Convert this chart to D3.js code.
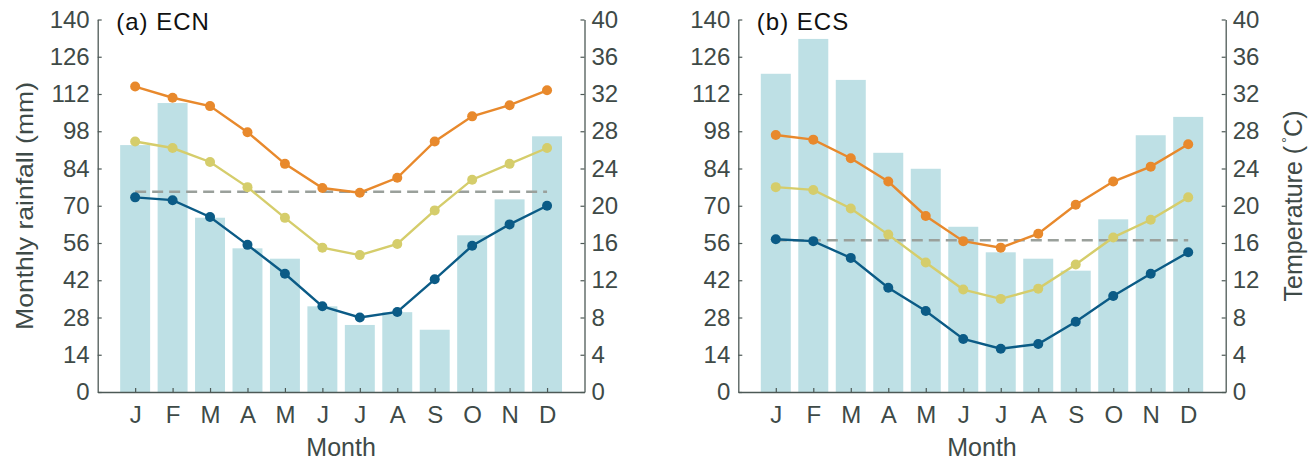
<!DOCTYPE html>
<html>
<head>
<meta charset="utf-8">
<script src="https://cdn.jsdelivr.net/npm/d3@7"></script>
<style>
  html, body { margin: 0; padding: 0; background: #fff; }
  svg { display: block; font-family: "Liberation Sans", Arial, sans-serif; }
</style>
</head>
<body>
<svg id="chart" width="1316" height="464"></svg>
<script>
const months = ["J","F","M","A","M","J","J","A","S","O","N","D"];
const rainTicks = [0,14,28,42,56,70,84,98,112,126,140];
const tempTicks = [0,4,8,12,16,20,24,28,32,36,40];

// (a) ECN
const ecnRain = [92.8,108.6,65.5,54.0,50.1,32.2,25.2,30.0,23.4,58.9,72.4,96.1];
const ecnTmax = [32.8,31.6,30.7,27.9,24.5,21.9,21.4,23.0,26.9,29.6,30.8,32.4];
const ecnTmean = [26.9,26.2,24.7,22.0,18.7,15.5,14.7,15.9,19.5,22.8,24.5,26.2];
const ecnTmin = [20.9,20.6,18.8,15.8,12.7,9.2,8.0,8.6,12.1,15.7,18.0,20.0];
const ecnAnnual = 21.5;

// (b) ECS
const ecsRain = [119.6,132.7,117.3,89.9,83.9,62.1,52.5,50.1,45.6,64.9,96.5,103.4];
const ecsTmax = [27.6,27.1,25.1,22.6,18.9,16.2,15.5,17.0,20.1,22.6,24.2,26.6];
const ecsTmean = [22.0,21.7,19.7,16.9,13.9,11.0,10.0,11.1,13.7,16.6,18.5,20.9];
const ecsTmin = [16.4,16.2,14.4,11.2,8.7,5.7,4.65,5.15,7.55,10.3,12.7,15.0];
const ecsAnnual = 16.3;

const panels = [
  {title: "(a) ECN", rain: ecnRain, tmax: ecnTmax, tmean: ecnTmean, tmin: ecnTmin, annual: ecnAnnual, x0: 97.7, x1: 584.5, leftLabel: true, rightLabel: false},
  {title: "(b) ECS", rain: ecsRain, tmax: ecsTmax, tmean: ecsTmean, tmin: ecsTmin, annual: ecsAnnual, x0: 738.3, x1: 1225.7, leftLabel: false, rightLabel: true}
];

const C = {
  bar: "#bee0e5", axis: "#4d5956", text: "#3e4a47",
  tmax: "#e8892c", tmean: "#d5cd6b", tmin: "#0b5b86", dash: "#9aa09b"
};
const yTop = 19.5, yBot = 392;
const svg = d3.select("#chart");

panels.forEach(p => {
  const x = d3.scaleLinear().domain([0, 13]).range([p.x0, p.x1]);
  const yR = d3.scaleLinear().domain([0, 140]).range([yBot, yTop]);
  const yT = d3.scaleLinear().domain([0, 40]).range([yBot, yTop]);
  const g = svg.append("g");
  const bw = x(0.8) - x(0);

  // bars
  g.selectAll("rect.bar").data(p.rain).enter().append("rect")
    .attr("x", (d, i) => x(i + 1) - bw / 2)
    .attr("y", d => yR(d))
    .attr("width", bw)
    .attr("height", d => yR(0) - yR(d))
    .attr("fill", C.bar);

  // dashed annual mean line
  g.append("line")
    .attr("x1", x(1)).attr("x2", x(12))
    .attr("y1", yT(p.annual)).attr("y2", yT(p.annual))
    .attr("stroke", C.dash).attr("stroke-width", 2.5)
    .attr("stroke-dasharray", "11,6");

  const line = d3.line().x((d, i) => x(i + 1)).y(d => yT(d));
  [[p.tmin, C.tmin], [p.tmean, C.tmean], [p.tmax, C.tmax]].forEach(([vals, col]) => {
    g.append("path").datum(vals).attr("d", line)
      .attr("fill", "none").attr("stroke", col).attr("stroke-width", 2.4);
    g.selectAll(null).data(vals).enter().append("circle")
      .attr("cx", (d, i) => x(i + 1)).attr("cy", d => yT(d))
      .attr("r", 5).attr("fill", col);
  });

  // axes
  const left = d3.axisLeft(yR).tickValues(rainTicks).tickSizeInner(-4).tickSizeOuter(0).tickPadding(8);
  const right = d3.axisRight(yT).tickValues(tempTicks).tickSizeInner(-4).tickSizeOuter(0).tickPadding(7);
  const bottom = d3.axisBottom(x).tickValues(d3.range(1, 13)).tickFormat((d) => months[d - 1]).tickSizeInner(-4).tickSizeOuter(0).tickPadding(14);

  [
    g.append("g").attr("transform", `translate(${p.x0},0)`).call(left),
    g.append("g").attr("transform", `translate(${p.x1},0)`).call(right),
    g.append("g").attr("transform", `translate(0,${yBot})`).call(bottom)
  ].forEach(a => {
    a.select(".domain").attr("stroke", C.axis).attr("stroke-width", 1.3);
    a.selectAll(".tick line").attr("stroke", C.axis).attr("stroke-width", 1.2);
    a.selectAll(".tick text").attr("fill", C.text).style("font-size", "24px").style("font-family", "'Liberation Sans', Arial, sans-serif");
  });

  // title
  g.append("text").attr("x", p.x0 + 18.5).attr("y", 29.5)
    .attr("fill", "#111").style("font-size", "24px").style("letter-spacing", "1px")
    .text(p.title);

  // x label
  g.append("text").attr("x", (p.x0 + p.x1) / 2).attr("y", 456)
    .attr("text-anchor", "middle").attr("fill", C.text).style("font-size", "25px").text("Month");

  if (p.leftLabel) {
    g.append("text").attr("transform", `translate(33,206) rotate(-90)`)
      .attr("text-anchor", "middle").attr("fill", C.text).style("font-size", "24px")
      .attr("textLength", 248).attr("lengthAdjust", "spacingAndGlyphs")
      .text("Monthly rainfall (mm)");
  }
  if (p.rightLabel) {
    const t = g.append("text").attr("transform", `translate(1302,206) rotate(-90)`)
      .attr("text-anchor", "middle").attr("fill", C.text).style("font-size", "25px");
    t.append("tspan").text("Temperature (");
    t.append("tspan").attr("dx", 3).attr("dy", -10).style("font-size", "15px").text("°");
    t.append("tspan").attr("dy", 10).text("C)");
  }
});
</script>
</body>
</html>
